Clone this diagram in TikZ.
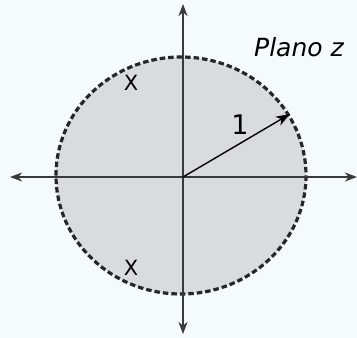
\documentclass[tikz,border=0pt]{standalone}
\usepackage{fontspec}
\setmainfont{DejaVu Sans}
\usetikzlibrary{arrows.meta}
\definecolor{bgblue}{HTML}{F5FAFD}
\definecolor{diskgray}{HTML}{D8DCDF}
\definecolor{axisgray}{HTML}{3A3A3A}
\tikzset{
  axisline/.style={draw=axisgray, line width=1.4pt, {Stealth[length=12pt,width=9pt,inset=3.5pt]}-{Stealth[length=12pt,width=9pt,inset=3.5pt]}},
  radiusarrow/.style={-{Stealth[length=14pt,width=10pt,inset=4pt]}, line width=1.4pt},
  polelabel/.style={font=\fontsize{21}{21}\selectfont, inner sep=0pt}
}

\begin{document}
\begin{tikzpicture}[x=1pt, y=-1pt]
    \fill[bgblue] (0,0) rectangle (357,338);
    \useasboundingbox (0,0) rectangle (357,338);
    \coordinate (o) at (183,177);
    \filldraw[fill=diskgray, draw=black!85, line width=3.2pt, dash pattern=on 5.5pt off 3pt]
      (181,175.5) ellipse [x radius=125, y radius=118.5];
    \coordinate (west) at (10,177);
    \coordinate (east) at (357,177);
    \coordinate (north) at (183,4);
    \coordinate (south) at (183,334);
    \draw[axisline] (west) -- (east);
    \draw[axisline] (south) -- (north);
    \coordinate (rim) at (290,114);
    \draw[radiusarrow] (o) -- (rim);
    \node[font=\fontsize{27}{27}\selectfont, inner sep=0pt] (one) at (240,125) {1};
    \node[polelabel] (p1) at (131,83) {X};
    \node[polelabel] (p2) at (131,268) {X};
    \node[font=\fontsize{25}{25}\selectfont\itshape, inner sep=0pt] (plane) at (299,47) {Plano z};
  \end{tikzpicture}
\end{document}
